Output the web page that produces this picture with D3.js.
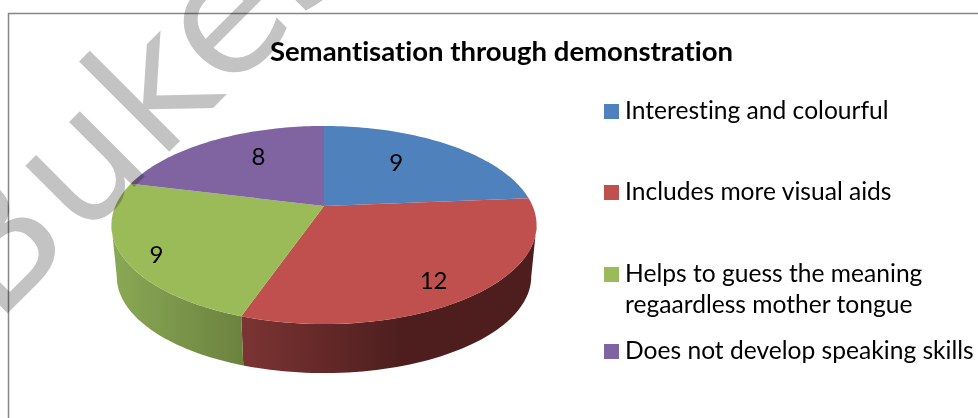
<!DOCTYPE html>
<html>
<head>
<meta charset="utf-8">
<script src="https://cdn.jsdelivr.net/npm/d3@7"></script>
<style>
  html, body { margin: 0; padding: 0; background: #fff; }
  svg { display: block; }
  text { font-family: "Lato", sans-serif; fill: #000; font-variant-ligatures: none; }
  .watermark { font-family: "DejaVu Sans", sans-serif; font-size: 168px; letter-spacing: 4px; fill: #c3c3c3; mix-blend-mode: multiply; }
</style>
</head>
<body>
<div id="chart"></div>
<script>
// Chart data
var title = "Semantisation through demonstration";
var categories = ["Interesting and colourful", "Includes more visual aids", "Helps to guess the meaning|regaardless mother tongue", "Does not develop speaking skills"];
var values = [9, 12, 9, 8];
var colours = ["#4f81bd", "#c0504d", "#9bbb59", "#8064a2"];
var wallColours = [["#3a5f8c", "#2a4566"], ["#7b3433", "#4e1e1e"], ["#8aa955", "#6c833f"], ["#5e4a78", "#453658"]];
var watermark = "Bukes";

var width = 978, height = 418;

var svg = d3.select("#chart").append("svg")
    .attr("width", width)
    .attr("height", height)
    .style("isolation", "isolate");

// frame, only top and left edges show in the picture
svg.append("path")
    .attr("d", "M8.5,418V13.5H978")
    .attr("fill", "none")
    .attr("stroke", "#868686")
    .attr("stroke-width", 1.5);

svg.append("text")
    .attr("x", 501.5)
    .attr("y", 61)
    .attr("text-anchor", "middle")
    .attr("font-weight", 700)
    .attr("font-size", 27.5)
    .text(title);

// perspective view of the unit circle: the centre sits above the middle of the ellipse
var cx = 324, cy = 206, A = 208.6, B = 95.4, k = 0.192;
var depth = {scale: 0.975, centreY: 225, drop: 51.5};

function project(angle, r) {
  var u = r * Math.sin(angle), v = r * Math.cos(angle), w = 1 + k * v;
  return [cx + A * u / w, cy - B * v / w];
}

function lower(p) {
  return [cx + depth.scale * (p[0] - cx), depth.centreY + depth.drop + depth.scale * (p[1] - depth.centreY)];
}

function arcPoints(a0, a1) {
  return d3.range(0, 61).map(function (i) {
    return project(a0 + (a1 - a0) * i / 60, 1);
  });
}

var pie = d3.pie().sort(null)(values);
var line = d3.line();
var colour = d3.scaleOrdinal().domain(categories).range(colours);

// side walls, only the front part of the rim is visible
var frontStart = 101 * Math.PI / 180, frontEnd = 259 * Math.PI / 180;
var defs = svg.append("defs");

pie.forEach(function (d, i) {
  var a0 = Math.max(d.startAngle, frontStart), a1 = Math.min(d.endAngle, frontEnd);
  if (a1 <= a0) return;
  var top = arcPoints(a0, a1);
  var xs = d3.extent(top, function (p) { return p[0]; });
  var grad = defs.append("linearGradient")
      .attr("id", "wall" + i)
      .attr("gradientUnits", "userSpaceOnUse")
      .attr("x1", xs[0])
      .attr("x2", i == 1 ? xs[0] + 160 : xs[1])
      .attr("y1", 0)
      .attr("y2", 0);
  grad.append("stop").attr("offset", 0).attr("stop-color", wallColours[i][0]);
  grad.append("stop").attr("offset", 1).attr("stop-color", wallColours[i][1]);
  svg.append("path")
      .attr("d", line(top.concat(top.map(lower).reverse())) + "Z")
      .attr("fill", "url(#wall" + i + ")");
});

// top faces
svg.selectAll(".slice")
  .data(pie)
  .enter()
  .append("path")
    .attr("class", "slice")
    .attr("d", function (d) {
      return line([[cx, cy]].concat(arcPoints(d.startAngle, d.endAngle))) + "Z";
    })
    .attr("fill", function (d, i) { return colour(categories[i]); });

// data labels, placed like the original rather than on the centroid
var labelNudge = [[-6, -6], [25, 24], [-51, 19], [5, -9]];

svg.selectAll(".value")
  .data(pie)
  .enter()
  .append("text")
    .attr("class", "value")
    .attr("text-anchor", "middle")
    .attr("dominant-baseline", "central")
    .attr("font-size", 24)
    .attr("transform", function (d, i) {
      var p = project((d.startAngle + d.endAngle) / 2, 0.6);
      return "translate(" + (p[0] + labelNudge[i][0]) + "," + (p[1] + labelNudge[i][1]) + ")";
    })
    .text(function (d) { return d.value; });

// legend
var legendY = [104, 185, 267, 344];

var legend = svg.selectAll(".legend")
  .data(categories)
  .enter()
  .append("g")
    .attr("class", "legend")
    .attr("transform", function (d, i) { return "translate(604," + legendY[i] + ")"; });

legend.append("rect")
    .attr("width", 15)
    .attr("height", 15)
    .attr("fill", function (d) { return colour(d); });

legend.each(function (d) {
  var g = d3.select(this);
  d.split("|").forEach(function (t, j) {
    g.append("text")
        .attr("x", 21)
        .attr("y", 14.5 + j * 31)
        .attr("font-size", 24.6)
        .text(t);
  });
});

// grey watermark lies over everything
svg.append("text")
    .attr("class", "watermark")
    .attr("transform", "translate(-4,325) rotate(-45)")
    .text(watermark);
</script>
</body>
</html>
